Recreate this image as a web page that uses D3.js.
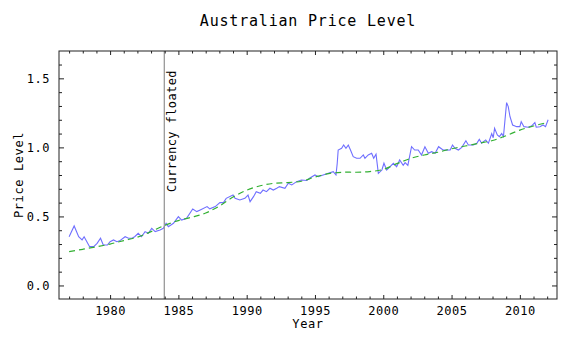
<!DOCTYPE html>
<html><head><meta charset="utf-8">
<script src="https://cdn.jsdelivr.net/npm/d3@7"></script>
<style>
html,body{margin:0;padding:0;background:#fff;}
text{font-family:"DejaVu Sans Mono",monospace;fill:#000;}
</style></head>
<body><svg id="c" width="576" height="347"></svg>
<script>
// Price level (blue) observations
const priceYears = [1977.0,1977.37,1977.7,1977.95,1978.1,1978.3,1978.5,1978.8,1979.05,1979.3,1979.5,1979.8,
 1980.0,1980.25,1980.5,1980.7,1981.1,1981.35,1981.6,1981.8,1982.06,1982.3,1982.56,1982.8,1983.05,1983.3,1983.66,1983.9,
 1984.1,1984.27,1984.64,1985.0,1985.24,1985.6,1986.05,1986.35,1986.6,1987.1,1987.3,1987.7,1988.04,1988.3,1988.5,
 1989.0,1989.15,1989.5,1989.87,1990.1,1990.25,1990.5,1990.7,1991.0,1991.2,1991.45,1991.7,1991.95,1992.2,1992.4,1992.8,
 1993.05,1993.3,1993.66,1994.0,1994.4,1994.6,1995.0,1995.24,1995.6,1995.97,1996.34,1996.54,1996.63,1996.7,1996.95,
 1997.1,1997.27,1997.44,1997.6,1997.8,1998.05,1998.3,1998.54,1998.66,1998.9,1999.15,1999.3,1999.47,1999.64,1999.9,
 2000.05,2000.25,2000.5,2000.74,2000.98,2001.2,2001.46,2001.6,2001.8,2002.07,2002.3,2002.56,2002.8,2003.05,2003.3,
 2003.54,2003.8,2004.05,2004.4,2004.9,2005.07,2005.25,2005.5,2005.75,2006.05,2006.23,2006.6,2006.85,2007.03,2007.2,
 2007.5,2007.7,2007.94,2008.05,2008.15,2008.35,2008.5,2008.67,2008.8,2008.9,2009.03,2009.15,2009.28,2009.47,2009.77,
 2010.0,2010.1,2010.3,2010.6,2010.85,2011.1,2011.2,2011.47,2011.7,2011.88,2012.07];
const priceValues = [0.353,0.431,0.353,0.33,0.353,0.317,0.281,0.281,0.305,0.342,0.293,0.293,
 0.317,0.33,0.317,0.323,0.353,0.342,0.342,0.353,0.378,0.353,0.39,0.378,0.414,0.39,0.402,0.414,
 0.45,0.426,0.45,0.498,0.474,0.486,0.554,0.535,0.547,0.571,0.555,0.571,0.6,0.6,0.631,
 0.655,0.631,0.619,0.631,0.655,0.607,0.643,0.679,0.667,0.691,0.679,0.704,0.691,0.704,0.716,0.704,
 0.74,0.728,0.752,0.764,0.76,0.776,0.8,0.788,0.8,0.812,0.824,0.8,0.885,0.981,0.993,
 1.017,0.993,1.017,0.981,0.933,0.921,0.921,0.945,0.921,0.945,0.957,0.921,0.95,0.812,0.836,
 0.885,0.836,0.86,0.885,0.86,0.909,0.87,0.89,0.87,1.005,0.981,0.981,0.945,1.005,0.957,
 0.969,0.957,1.005,0.98,0.981,1.017,0.993,0.981,1.0,1.048,1.017,1.017,1.03,1.058,1.03,
 1.054,1.03,1.10,1.07,1.138,1.09,1.078,1.10,1.078,1.186,1.324,1.295,1.222,1.162,1.15,
 1.15,1.186,1.15,1.146,1.154,1.18,1.146,1.15,1.162,1.15,1.2];

// Trend (green dashed)
const trendYears = [1977,1978,1979,1980,1981,1982,1983,1984,1985,1986,1987,1988,1989,1990,1991,1992,1993,1994,
 1995,1996,1997,1998,1999,2000,2001,2002,2003,2004,2005,2006,2007,2008,2009,2010,2011,2012];
const trendValues = [0.245,0.262,0.28,0.30,0.325,0.35,0.39,0.435,0.47,0.495,0.525,0.575,0.64,0.69,0.722,0.74,0.745,0.755,
 0.785,0.81,0.82,0.82,0.825,0.84,0.882,0.92,0.945,0.965,0.99,1.01,1.03,1.05,1.085,1.125,1.155,1.18];

const xMajorTicks = [1980,1985,1990,1995,2000,2005,2010];
const yMajorTicks = [0.0,0.5,1.0,1.5];
const floatYear = 1983.97;

const W=576,H=347;
const L=59,R=557,T=51,B=299;
const x = d3.scaleLinear().domain([1976.26,2012.72]).range([L,R]);
const y = d3.scaleLinear().domain([-0.098,1.698]).range([B,T]);
const svg = d3.select("#c");

// title
svg.append("text").attr("x",(L+R)/2).attr("y",26).attr("text-anchor","middle")
  .style("font-size","15px").style("letter-spacing","0.8px").text("Australian Price Level");

// data
const clipId="clip";
svg.append("clipPath").attr("id",clipId).append("rect").attr("x",L).attr("y",T).attr("width",R-L).attr("height",B-T);
const g = svg.append("g").attr("clip-path","url(#clip)");

const priceData = priceYears.map((d,i)=>[d,priceValues[i]]);
const trendData = trendYears.map((d,i)=>[d,trendValues[i]]);

g.append("path").datum(priceData)
  .attr("d",d3.line().x(d=>x(d[0])).y(d=>y(d[1])))
  .attr("fill","none").attr("stroke","#6f6fff").attr("stroke-width",1.1);

g.append("path").datum(trendData)
  .attr("d",d3.line().curve(d3.curveCatmullRom).x(d=>x(d[0])).y(d=>y(d[1])))
  .attr("fill","none").attr("stroke","#33b033").attr("stroke-width",1.2).attr("stroke-dasharray","6,4");

// vertical line
svg.append("line").attr("x1",x(floatYear)).attr("x2",x(floatYear)).attr("y1",T).attr("y2",B)
  .attr("stroke","#999").attr("stroke-width",1.3);
svg.append("text").attr("transform",`translate(${x(floatYear)+12},192) rotate(-90)`)
  .attr("text-anchor","start").style("font-size","12px").style("letter-spacing","0.4px").text("Currency floated");

// frame axes
const fmtY = d3.format(".1f");
const axB = d3.axisBottom(x).tickValues(xMajorTicks).tickFormat(d3.format("d")).tickSizeInner(-4).tickSizeOuter(0).tickPadding(7);
const axL = d3.axisLeft(y).tickValues(yMajorTicks).tickFormat(fmtY).tickSizeInner(-5).tickSizeOuter(0).tickPadding(9);
const axT = d3.axisTop(x).tickValues(xMajorTicks).tickFormat("").tickSizeInner(-4).tickSizeOuter(0);
const axR = d3.axisRight(y).tickValues(yMajorTicks).tickFormat("").tickSizeInner(-5).tickSizeOuter(0);

const minorX = d3.range(1977,2013).filter(v=>v%5!==0);
const minorY = d3.range(-0,17).map(v=>v/10).filter(v=>Math.round(v*10)%5!==0);
const mB = d3.axisBottom(x).tickValues(minorX).tickFormat("").tickSizeInner(-2.5).tickSizeOuter(0);
const mT = d3.axisTop(x).tickValues(minorX).tickFormat("").tickSizeInner(-2.5).tickSizeOuter(0);
const mL = d3.axisLeft(y).tickValues(minorY).tickFormat("").tickSizeInner(-3).tickSizeOuter(0);
const mR = d3.axisRight(y).tickValues(minorY).tickFormat("").tickSizeInner(-3).tickSizeOuter(0);

function place(ax,tr){
  const a = svg.append("g").attr("transform",tr).call(ax);
  a.select(".domain").remove();
  a.selectAll("line").attr("stroke","#222");
  a.selectAll("text").style("font-size","12px").style("letter-spacing","0.5px").attr("fill","#000")
    .style("font-family","'DejaVu Sans Mono',monospace");
  return a;
}
place(axB,`translate(0,${B})`); place(mB,`translate(0,${B})`);
place(axT,`translate(0,${T})`); place(mT,`translate(0,${T})`);
place(axL,`translate(${L},0)`); place(mL,`translate(${L},0)`);
place(axR,`translate(${R},0)`); place(mR,`translate(${R},0)`);

svg.append("rect").attr("x",L).attr("y",T).attr("width",R-L).attr("height",B-T)
  .attr("fill","none").attr("stroke","#222").attr("stroke-width",1);

// axis labels
svg.append("text").attr("x",(L+R)/2).attr("y",328).attr("text-anchor","middle")
  .style("font-size","12px").style("letter-spacing","0.6px").text("Year");
svg.append("text").attr("transform",`translate(23,${(T+B)/2}) rotate(-90)`).attr("text-anchor","middle")
  .style("font-size","12px").style("letter-spacing","0.6px").text("Price Level");
</script></body></html>
